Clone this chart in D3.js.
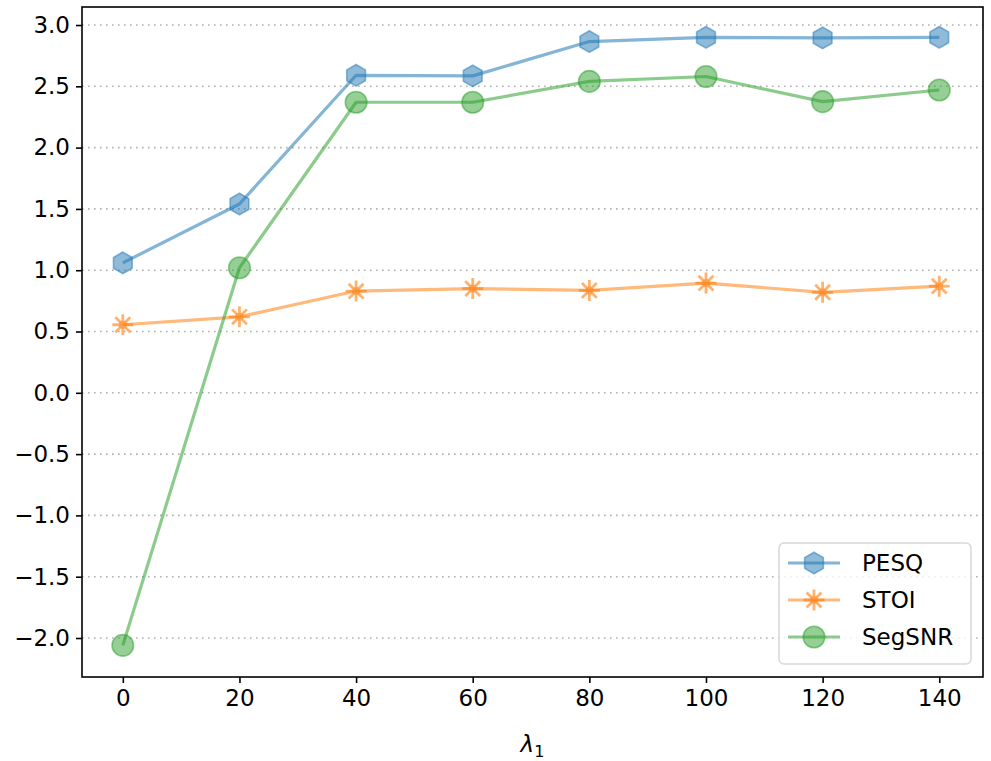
<!DOCTYPE html>
<html>
<head>
<meta charset="utf-8">
<script src="https://cdn.jsdelivr.net/npm/d3@7"></script>
<style>
html,body{margin:0;padding:0;background:#fff;}
svg{display:block;font-family:"DejaVu Sans",sans-serif;}
</style>
</head>
<body>
<svg id="chart" width="991" height="761"></svg>
<script>
const lambdas = [0, 20, 40, 60, 80, 100, 120, 140];
const pesq   = [1.06, 1.54, 2.59, 2.585, 2.865, 2.90, 2.895, 2.90];
const stoi   = [0.555, 0.62, 0.83, 0.85, 0.835, 0.895, 0.82, 0.87];
const segsnr = [-2.06, 1.02, 2.37, 2.37, 2.54, 2.58, 2.375, 2.47];
const yTicks = [-2.0, -1.5, -1.0, -0.5, 0.0, 0.5, 1.0, 1.5, 2.0, 2.5, 3.0];
const xTicks = [0, 20, 40, 60, 80, 100, 120, 140];
const seriesNames = ["PESQ", "STOI", "SegSNR"];
const seriesColors = ["#1f77b4", "#ff7f0e", "#2ca02c"];
const seriesMarkers = ["hexagon", "asterisk", "circle"];

const svg = d3.select("#chart");
const L = 82, R = 983, T = 7, B = 677;
const x = d3.scaleLinear().domain([-7, 147.5]).range([L, R]);
const y = d3.scaleLinear().domain([-2.318, 3.147]).range([B, T]);
const FS = 23;

// grid
svg.append("g").selectAll("line").data(yTicks).join("line")
  .attr("x1", L).attr("x2", R)
  .attr("y1", d => y(d)).attr("y2", d => y(d))
  .attr("stroke", "#b0b0b0").attr("stroke-width", 1.6)
  .attr("stroke-dasharray", "1.6,4.4");

// axes
const fmt = d => (d < 0 ? "\u2212" : "") + Math.abs(d).toFixed(1);
const yAxis = d3.axisLeft(y).tickValues(yTicks).tickFormat(fmt).tickSize(6).tickPadding(6);
const xAxis = d3.axisBottom(x).tickValues(xTicks).tickFormat(d3.format("d")).tickSize(6).tickPadding(7);
const gy = svg.append("g").attr("transform", `translate(${L},0)`).call(yAxis);
const gx = svg.append("g").attr("transform", `translate(0,${B})`).call(xAxis);
[gx, gy].forEach(g => {
  g.select(".domain").remove();
  g.selectAll(".tick line").attr("stroke", "#000").attr("stroke-width", 1.6);
  g.selectAll(".tick text").attr("fill", "#000").attr("font-size", FS).attr("font-family", "DejaVu Sans");
});

// spines
svg.append("rect").attr("x", L).attr("y", T).attr("width", R - L).attr("height", B - T)
  .attr("fill", "none").attr("stroke", "#000").attr("stroke-width", 1.6);

// marker paths
function markerPath(type, r) {
  if (type === "hexagon") {
    const pts = d3.range(6).map(i => {
      const a = Math.PI / 2 + i * Math.PI / 3;
      return [r * Math.cos(a), -r * Math.sin(a)];
    });
    return "M" + pts.map(p => p.join(",")).join("L") + "Z";
  }
  if (type === "circle") {
    return `M${-r},0A${r},${r} 0 1,0 ${r},0A${r},${r} 0 1,0 ${-r},0Z`;
  }
  // asterisk, 8 spokes
  let p = "";
  for (let i = 0; i < 4; i++) {
    const a = i * Math.PI / 4;
    p += `M${-r * Math.cos(a)},${-r * Math.sin(a)}L${r * Math.cos(a)},${r * Math.sin(a)}`;
  }
  return p;
}

function drawMarker(g, type, color, cx, cy) {
  const mg = g.append("g").attr("transform", `translate(${cx},${cy})`);
  if (type === "asterisk") {
    mg.append("path").attr("d", markerPath(type, 10.5))
      .attr("stroke", color).attr("stroke-width", 2.8).attr("stroke-opacity", 0.6)
      .attr("fill", "none").attr("stroke-linecap", "butt");
    mg.append("circle").attr("r", 4).attr("fill", color).attr("fill-opacity", 0.35);
  } else {
    const r = 10.8;
    mg.append("path").attr("d", markerPath(type, r))
      .attr("fill", color).attr("fill-opacity", 0.5)
      .attr("stroke", color).attr("stroke-opacity", 0.5).attr("stroke-width", 1.6);
  }
}

const allData = [pesq, stoi, segsnr];
const line = d3.line().x((d, i) => x(lambdas[i])).y(d => y(d));
allData.forEach((vals, si) => {
  const g = svg.append("g");
  g.append("path").datum(vals).attr("d", line)
    .attr("fill", "none").attr("stroke", seriesColors[si])
    .attr("stroke-width", 3.2).attr("stroke-opacity", 0.55).attr("stroke-linejoin", "round");
  vals.forEach((v, i) => drawMarker(g, seriesMarkers[si], seriesColors[si], x(lambdas[i]), y(v)));
});

// legend
const lg = svg.append("g");
lg.append("rect").attr("x", 779).attr("y", 543).attr("width", 192).attr("height", 121)
  .attr("rx", 5).attr("fill", "#fff").attr("fill-opacity", 0.8)
  .attr("stroke", "#d8d8d8").attr("stroke-width", 1.5);
seriesNames.forEach((name, i) => {
  const cy = 563 + i * 37;
  lg.append("line").attr("x1", 788).attr("x2", 840).attr("y1", cy).attr("y2", cy)
    .attr("stroke", seriesColors[i]).attr("stroke-width", 3.2).attr("stroke-opacity", 0.55);
  drawMarker(lg, seriesMarkers[i], seriesColors[i], 814, cy);
  lg.append("text").attr("x", 862).attr("y", cy).attr("dy", "0.36em")
    .attr("font-size", FS).attr("fill", "#000").text(name);
});

// x label
const xl = svg.append("text").attr("x", (L + R) / 2).attr("y", 752)
  .attr("text-anchor", "middle").attr("font-size", FS).attr("fill", "#000");
xl.append("tspan").attr("font-style", "italic").text("\u03bb");
xl.append("tspan").attr("font-size", FS * 0.7).attr("dy", 5).text("1");
</script>
</body>
</html>
